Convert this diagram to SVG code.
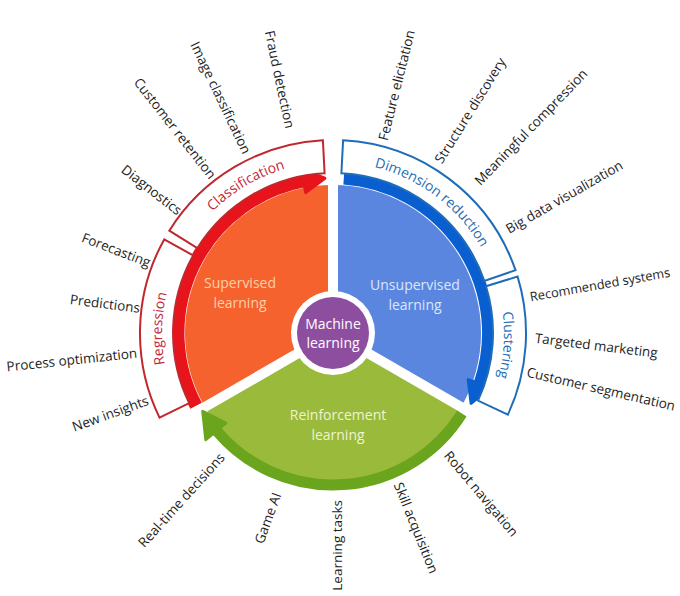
<svg xmlns="http://www.w3.org/2000/svg" width="680" height="596" viewBox="0 0 680 596">
<style>
.lbl{font-family:"Open Sans","Liberation Sans",sans-serif;font-size:13.5px;fill:#1e1e1e}
.sec{font-family:"Open Sans","Liberation Sans",sans-serif;font-size:14px;text-anchor:middle}
.band{font-family:"Open Sans","Liberation Sans",sans-serif;font-size:14px}
.box{fill:#fff;stroke-width:2}
</style>
<defs>
<path id="pCls" d="M191.2,237.4 A171 171 0 0 1 318.1,162.6"/>
<path id="pReg" d="M176.8,402.5 A171 171 0 0 1 180.6,255.4"/>
<path id="pDim" d="M347.9,162.6 A171 171 0 0 1 492.6,271.7"/>
<path id="pClu" d="M498.2,288.7 A171 171 0 0 1 490.4,399.8"/>
</defs>
<rect width="680" height="596" fill="#fff"/>
<g id="supervised">
<path d="M333,333 L204.8,407 A148 148 0 0 1 333,185 Z" fill="#f6622e"/>
<text class="sec" fill="#fbd0a8" x="240" y="288">Supervised</text>
<text class="sec" fill="#fbd0a8" x="240" y="308">learning</text>
</g>
<g id="unsupervised">
<path d="M333,333 L333,185 A148 148 0 0 1 461.2,407 Z" fill="#5b86e0"/>
<text class="sec" fill="#dbe6fb" x="415" y="290">Unsupervised</text>
<text class="sec" fill="#dbe6fb" x="415" y="310">learning</text>
</g>
<g id="reinforcement">
<path d="M333,333 L461.2,407 A148 148 0 0 1 204.8,407 Z" fill="#9aba3c"/>
<text class="sec" fill="#eef3d4" x="338" y="420">Reinforcement</text>
<text class="sec" fill="#eef3d4" x="338" y="440">learning</text>
</g>
<g id="gaps" stroke="#fff" stroke-width="10">
<line x1="333" y1="333" x2="333" y2="160"/>
<line x1="333" y1="333" x2="480.2" y2="418"/>
<line x1="333" y1="333" x2="185.8" y2="418"/>
</g>
<g id="connectors">
<path d="M196.1,405.8 A155 155 0 0 1 303.4,180.9" fill="none" stroke="#e8141b" stroke-width="13"/>
<polygon points="305.7,192.6 301.1,169.1 324.9,178.2" fill="#e8141b" stroke="#e8141b" stroke-width="3" stroke-linejoin="round"/>
<path d="M343.8,178.4 A155 155 0 0 1 479.6,383.5" fill="none" stroke="#0a5fd0" stroke-width="12"/>
<polygon points="468.2,379.6 490.9,387.4 471.1,403.4" fill="#0a5fd0" stroke="#0a5fd0" stroke-width="3" stroke-linejoin="round"/>
<path d="M461.9,413.5 A152 152 0 0 1 216.6,430.7" fill="none" stroke="#6aa51d" stroke-width="11"/>
<polygon points="225.8,423 205.8,439.7 202.7,411.3" fill="#6aa51d" stroke="#6aa51d" stroke-width="3" stroke-linejoin="round"/>
</g>
<g id="classification">
<path class="box" stroke="#c0282d" d="M169.3,230.7 A193 193 0 0 1 322.9,140.3 L324.6,173.2 A160 160 0 0 0 197.3,248.2 Z"/>
<text class="band" fill="#c0283a"><textPath href="#pCls" startOffset="50%" text-anchor="middle">Classification</textPath></text>
</g>
<g id="regression">
<path class="box" stroke="#c0282d" d="M159.5,417.6 A193 193 0 0 1 164.2,239.4 L193.1,255.4 A160 160 0 0 0 189.2,403.1 Z"/>
<text class="band" fill="#c0283a"><textPath href="#pReg" startOffset="50%" text-anchor="middle">Regression</textPath></text>
</g>
<g id="dimension">
<path class="box" stroke="#1f6db8" d="M343.1,140.3 A193 193 0 0 1 515.5,270.2 L484.3,280.9 A160 160 0 0 0 341.4,173.2 Z"/>
<text class="band" fill="#1f6db8"><textPath href="#pDim" startOffset="50%" text-anchor="middle">Dimension reduction</textPath></text>
</g>
<g id="clustering">
<path class="box" stroke="#1f6db8" d="M517.6,276.6 A193 193 0 0 1 507.9,414.6 L478,400.6 A160 160 0 0 0 486,286.2 Z"/>
<text class="band" fill="#1f6db8"><textPath href="#pClu" startOffset="50%" text-anchor="middle">Clustering</textPath></text>
</g>
<g id="machine">
<circle cx="333" cy="333" r="42" fill="#fff"/>
<circle cx="333" cy="333" r="36" fill="#8e4ea0"/>
<text class="sec" fill="#fff" x="333" y="329">Machine</text>
<text class="sec" fill="#fff" x="333" y="348">learning</text>
</g>
<g id="labels" class="lbl">
<text class="lbl" text-anchor="end" dy="0.35em" transform="translate(290,128) rotate(78)">Fraud detection</text>
<text class="lbl" text-anchor="end" dy="0.35em" transform="translate(247,153) rotate(64.5)">Image classification</text>
<text class="lbl" text-anchor="end" dy="0.35em" transform="translate(213,177) rotate(52)">Customer retention</text>
<text class="lbl" text-anchor="end" dy="0.35em" transform="translate(180,212) rotate(38)">Diagnostics</text>
<text class="lbl" text-anchor="end" dy="0.35em" transform="translate(150,263) rotate(21)">Forecasting</text>
<text class="lbl" text-anchor="end" dy="0.35em" transform="translate(140,308) rotate(7)">Predictions</text>
<text class="lbl" text-anchor="end" dy="0.35em" transform="translate(137,353) rotate(-6)">Process optimization</text>
<text class="lbl" text-anchor="end" dy="0.35em" transform="translate(148,400) rotate(-20)">New insights</text>
<text class="lbl" dy="0.35em" transform="translate(383,140) rotate(-76)">Feature elicitation</text>
<text class="lbl" dy="0.35em" transform="translate(438,162) rotate(-58)">Structure discovery</text>
<text class="lbl" dy="0.35em" transform="translate(477,183) rotate(-46)">Meaningful compression</text>
<text class="lbl" dy="0.35em" transform="translate(507,230) rotate(-30)">Big data visualization</text>
<text class="lbl" dy="0.35em" style="font-size:12.8px" transform="translate(530,297) rotate(-10)">Recommended systems</text>
<text class="lbl" dy="0.35em" transform="translate(535,338) rotate(7)">Targeted marketing</text>
<text class="lbl" dy="0.35em" transform="translate(527,372) rotate(13)">Customer segmentation</text>
<text class="lbl" dy="0.35em" transform="translate(447,453) rotate(50)">Robot navigation</text>
<text class="lbl" dy="0.35em" transform="translate(398,483) rotate(68)">Skill acquisition</text>
<text class="lbl" text-anchor="end" dy="0.35em" transform="translate(337,500) rotate(-90)">Learning tasks</text>
<text class="lbl" text-anchor="end" dy="0.35em" transform="translate(277,493) rotate(-70)">Game AI</text>
<text class="lbl" text-anchor="end" dy="0.35em" transform="translate(222,455) rotate(-48)">Real-time decisions</text>
</g>
</svg>
